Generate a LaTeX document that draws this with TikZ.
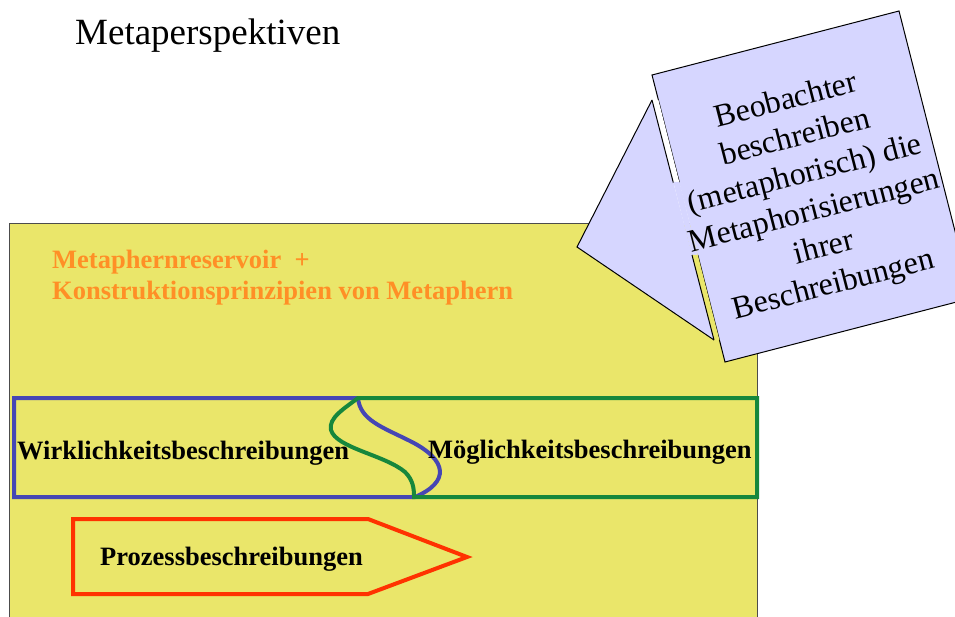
\documentclass[tikz,border=0pt]{standalone}
\usepackage{fontspec}
\setmainfont{Liberation Serif}
\definecolor{ylw}{RGB}{234,230,106}
\definecolor{orng}{RGB}{255,143,38}
\definecolor{blu}{RGB}{70,70,180}
\definecolor{grn}{RGB}{22,135,60}
\definecolor{rd}{RGB}{255,50,0}
\definecolor{lav}{RGB}{214,214,255}
\tikzset{
  boldtxt/.style={font=\fontsize{26.5}{30}\selectfont\bfseries, inner sep=0pt},
  frame/.style={line width=4pt, line join=miter},
  thinline/.style={line width=1pt},
}
\begin{document}
\begin{tikzpicture}[x=1pt,y=-1pt]
\useasboundingbox (0,0) rectangle (955,617);
\clip (0,0) rectangle (955,617);
% title
\node[anchor=base west, inner sep=0pt, font=\fontsize{37}{44}\selectfont] (title) at (75,45) {Metaperspektiven};
% yellow area
\fill[ylw] (9,223) rectangle (757,640);
\draw[black!70, line width=0.9pt] (9,640) -- (9,223) -- (757,223) -- (757,640);
% orange text
\node[anchor=base west, boldtxt, text=orng] (res1) at (52,269) {Metaphernreservoir\ \ +};
\node[anchor=base west, boldtxt, text=orng] (res2) at (52,300) {Konstruktionsprinzipien von Metaphern};
% blue frame
\draw[frame, blu] (358,398) .. controls (360,420) and (382,427) .. (410,441)
   .. controls (448,460) and (450,482) .. (415,497) -- (14,497) -- (14,398) -- cycle;
% green frame
\draw[frame, grn] (358,398) -- (757,398) -- (757,497) -- (414,497)
   .. controls (414,488) and (413,480) .. (405,472)
   .. controls (385,455) and (336,448) .. (331,430)
   .. controls (328,418) and (345,408) .. (358,398) -- cycle;
\node[anchor=base west, boldtxt] (wirk) at (17,459) {Wirklichkeitsbeschreibungen};
\node[anchor=base west, boldtxt] (moeg) at (428,458) {Möglichkeitsbeschreibungen};
% red arrow
\draw[frame, rd] (73,519) -- (368,519) -- (467,557) -- (368,594) -- (73,594) -- cycle;
\node[anchor=base west, boldtxt] (proz) at (100,565) {Prozessbeschreibungen};
% callout tail
\fill[lav] (577,247) -- (652,100) -- (714,340) -- cycle;
\draw[thinline] (652,100) -- (577,247) -- (714,340);
% callout box
\fill[lav] (652,75) -- (899,11) -- (972,298) -- (725,362) -- cycle;
\draw[thinline] (679.5,183) -- (658.4,100) -- (652,75) -- (899,11) -- (972,298) -- (725,362) -- (697.8,255);
% slits between tail and box
\fill[white] (652,100) -- (658.4,100) -- (679.5,183) -- (673.4,183) -- cycle;
\draw[thinline] (652,100) -- (673.4,183);
\fill[lav] (673.4,182) -- (679.5,182) -- (697.8,256) -- (692.0,256) -- cycle;
\fill[ylw] (692.0,255) -- (697.8,255) -- (719.4,340) -- (714,340) -- cycle;
\draw[thinline] (692.0,255) -- (714,340);
\node[rotate=14.5, align=center, inner sep=0pt, font=\fontsize{32}{38}\selectfont] (obs) at (810,194)
  {Beobachter\\beschreiben\\(metaphorisch) die\\Metaphorisierungen\\ihrer\\Beschreibungen};
\end{tikzpicture}
\end{document}
